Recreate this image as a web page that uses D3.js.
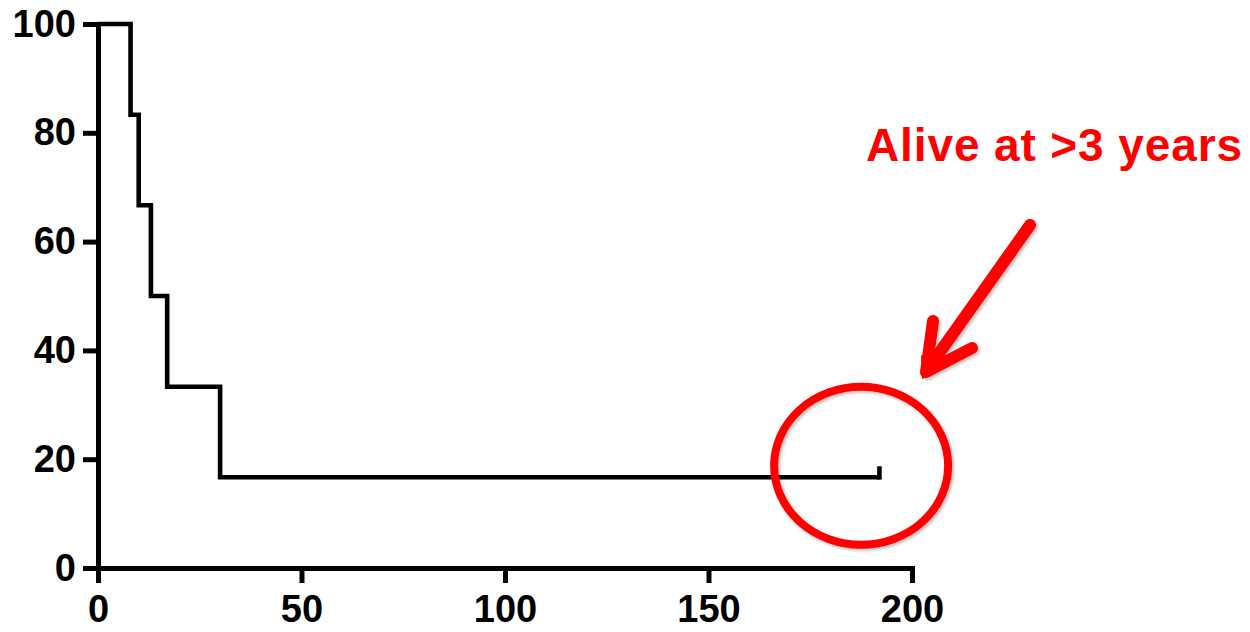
<!DOCTYPE html>
<html>
<head>
<meta charset="utf-8">
<script src="https://cdn.jsdelivr.net/npm/d3@7"></script>
<style>
  html, body { margin: 0; padding: 0; background: #fff; }
  svg { display: block; }
  .axis text { font-family: "Liberation Sans", Arial, Helvetica, sans-serif; font-weight: bold; font-size: 38px; fill: #000; }
  .axis path, .axis line { stroke: #000; stroke-width: 5px; }
</style>
</head>
<body>
<svg id="chart" width="1250" height="632"></svg>
<script>
// ---- Data ----
const stepTimes = [0, 8, 10, 13, 17, 30];
const survival = [100, 83.33, 66.67, 50, 33.33, 16.67];
const lastTime = 192;           // last follow-up (censored)
const censorTimes = [192];
const censorSurvival = [16.67];
const xTicks = [0, 50, 100, 150, 200];
const yTicks = [0, 20, 40, 60, 80, 100];
const annotationText = "Alive at >3 years";
const circleCenter = [187.5, 18.8]; // in data units

// ---- Layout ----
const svg = d3.select("#chart");
const x = d3.scaleLinear().domain([0, 200]).range([98, 912]);
const y = d3.scaleLinear().domain([0, 100]).range([568, 24]);

const defs = svg.append("defs");
const f = defs.append("filter").attr("id", "shadow").attr("x", "-20%").attr("y", "-20%").attr("width", "140%").attr("height", "140%");
f.append("feDropShadow").attr("dx", 2).attr("dy", 2).attr("stdDeviation", 1.5).attr("flood-color", "#000").attr("flood-opacity", 0.25);

// Axes
svg.append("g").attr("class", "axis")
  .attr("transform", `translate(0,${y(0)})`)
  .call(d3.axisBottom(x).tickValues(xTicks).tickSize(15).tickSizeOuter(0).tickPadding(12).tickFormat(d3.format("d")));
svg.append("g").attr("class", "axis")
  .attr("transform", `translate(${x(0)},0)`)
  .call(d3.axisLeft(y).tickValues(yTicks).tickSize(15).tickSizeOuter(0).tickPadding(7).tickFormat(d3.format("d")));
svg.selectAll(".axis path.domain").attr("stroke-linecap", "square");

// Survival step line
const pts = stepTimes.map((t, i) => [t, survival[i]]);
pts.push([lastTime, survival[survival.length - 1]]);
const line = d3.line().x(d => x(d[0])).y(d => y(d[1])).curve(d3.curveStepAfter);
svg.append("path")
  .datum(pts)
  .attr("d", line)
  .attr("fill", "none")
  .attr("stroke", "#000")
  .attr("stroke-width", 4.6)
  .attr("stroke-linejoin", "miter");

// Censor ticks
svg.selectAll(".censor")
  .data(censorTimes)
  .enter().append("line")
  .attr("class", "censor")
  .attr("x1", d => x(d)).attr("x2", d => x(d))
  .attr("y1", (d, i) => y(censorSurvival[i]) + 2.3)
  .attr("y2", (d, i) => y(censorSurvival[i]) - 11)
  .attr("stroke", "#000").attr("stroke-width", 4.6);

// Annotation: circle
svg.append("ellipse")
  .attr("cx", x(circleCenter[0])).attr("cy", y(circleCenter[1]))
  .attr("rx", 87).attr("ry", 79)
  .attr("fill", "none").attr("stroke", "#ff0000").attr("stroke-width", 8)
  .attr("filter", "url(#shadow)");

// Annotation: arrow
const arrow = svg.append("g").attr("filter", "url(#shadow)")
  .attr("stroke", "#ff0000").attr("stroke-width", 12).attr("stroke-linecap", "round").attr("stroke-linejoin", "round").attr("fill", "none");
arrow.append("line").attr("x1", 1030).attr("y1", 225).attr("x2", 930).attr("y2", 366);
arrow.append("path").attr("d", "M933,321 L926,372 L972,348");
svg.append("path").attr("d", "M922,379 L921,355 L944,368 Z").attr("fill", "#ff0000");

// Annotation: text
svg.append("text")
  .attr("x", 866).attr("y", 161)
  .attr("font-family", "Liberation Sans, Arial, Helvetica, sans-serif")
  .attr("font-weight", "bold").attr("font-size", 46)
  .attr("fill", "#ff0000")
  .attr("textLength", 376)
  .text(annotationText);
</script>
</body>
</html>
